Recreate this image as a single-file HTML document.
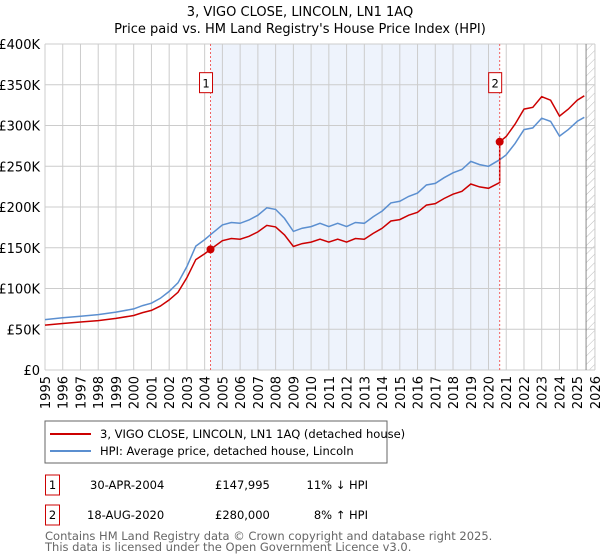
<!DOCTYPE html>
<html><head><meta charset="utf-8"><style>
body{margin:0;background:#fff;font-family:"Liberation Sans","DejaVu Sans",sans-serif;}
svg{display:block}
</style></head><body>
<svg id="c" width="600" height="560" xmlns="http://www.w3.org/2000/svg">
<text x="300" y="16" text-anchor="middle" font-size="13" fill="#000" font-family="DejaVu Sans, sans-serif">3, VIGO CLOSE, LINCOLN, LN1 1AQ</text>
<text x="300" y="33" text-anchor="middle" font-size="13" fill="#000" font-family="DejaVu Sans, sans-serif">Price paid vs. HM Land Registry's House Price Index (HPI)</text>
<defs><pattern id="hatch" width="6" height="6" patternUnits="userSpaceOnUse" patternTransform="rotate(45)"><line x1="0" y1="0" x2="0" y2="6" stroke="#bbb" stroke-width="1"/></pattern></defs>
<g id="plot"></g>
<rect x="45" y="421" width="342" height="42" fill="#fff" stroke="#666"/>
<line x1="50" y1="434" x2="91" y2="434" stroke="#cc0000" stroke-width="2"/>
<text x="100" y="438" font-size="11.5" font-family="DejaVu Sans, sans-serif">3, VIGO CLOSE, LINCOLN, LN1 1AQ (detached house)</text>
<line x1="50" y1="451" x2="91" y2="451" stroke="#5b8fd0" stroke-width="2"/>
<text x="100" y="455" font-size="11.5" font-family="DejaVu Sans, sans-serif">HPI: Average price, detached house, Lincoln</text>
<g font-size="11.5" font-family="DejaVu Sans, sans-serif">
<rect x="45.5" y="475" width="14" height="20" fill="#fff" stroke="#cc0000"/>
<text x="52.5" y="489" text-anchor="middle">1</text>
<text x="90" y="489">30-APR-2004</text>
<text x="215" y="489">£147,995</text>
<text x="368" y="489" text-anchor="end">11% ↓ HPI</text>
<rect x="45.5" y="505" width="14" height="20" fill="#fff" stroke="#cc0000"/>
<text x="52.5" y="519" text-anchor="middle">2</text>
<text x="87" y="519">18-AUG-2020</text>
<text x="215" y="519">£280,000</text>
<text x="368" y="519" text-anchor="end">8% ↑ HPI</text>
</g>
<text x="45" y="540" font-size="11.5" fill="#666" font-family="DejaVu Sans, sans-serif">Contains HM Land Registry data © Crown copyright and database right 2025.</text>
<text x="45" y="551" font-size="11.5" fill="#666" font-family="DejaVu Sans, sans-serif">This data is licensed under the Open Government Licence v3.0.</text>
</svg>
<script>
var hpiYears=[1995,1996,1997,1998,1999,2000,2000.5,2001,2001.5,2002,2002.5,2003,2003.5,2004,2004.33,2005,2005.5,2006,2006.5,2007,2007.5,2008,2008.5,2009,2009.5,2010,2010.5,2011,2011.5,2012,2012.5,2013,2013.5,2014,2014.5,2015,2015.5,2016,2016.5,2017,2017.5,2018,2018.5,2019,2019.5,2020,2020.63,2021,2021.5,2022,2022.5,2023,2023.5,2024,2024.5,2025,2025.4];
var hpiValues=[61.8,64,66,68,71,75,79,82,88,96.5,107,127,152,160,166,178,181,180,184,190,199,197,186,170,174,176,180,176,180,176,181,180,188,195,205,207,213,217,227,229,236,242,246,256,252,250,258,264,278,295,297,309,305,287,295,305,310];
var saleYears=[2004.33,2020.63];
var salePrices=[147.995,280];
var yTicks=[0,50,100,150,200,250,300,350,400];
var yTickLabels=["£0","£50K","£100K","£150K","£200K","£250K","£300K","£350K","£400K"];
var xTickYears=[1995,1996,1997,1998,1999,2000,2001,2002,2003,2004,2005,2006,2007,2008,2009,2010,2011,2012,2013,2014,2015,2016,2017,2018,2019,2020,2021,2022,2023,2024,2025,2026];

var NS="http://www.w3.org/2000/svg";
var g=document.getElementById('plot');
function X(y){return 45+(y-1995)*17.74;}
function Y(v){return 370-v*326/400;}
function el(t,a,p){var e=document.createElementNS(NS,t);for(var k in a)e.setAttribute(k,a[k]);(p||g).appendChild(e);return e;}

var sh=el('rect',{x:X(saleYears[0]),y:Y(400),width:X(saleYears[1])-X(saleYears[0]),height:Y(0)-Y(400),fill:'#eef3fc'});


var ht=el('rect',{x:X(2025.5),y:Y(400),width:X(2026)-X(2025.5),height:Y(0)-Y(400),fill:'url(#hatch)'});


yTicks.forEach(function(v,i){
  var l=el('line',{x1:45,x2:595,y1:Y(v),y2:Y(v),stroke:'#cccccc'});
  
  
  var t=el('text',{x:40,y:Y(v)+5,'text-anchor':'end','font-size':13,'font-family':'DejaVu Sans, sans-serif'});
  
  
  t.textContent=yTickLabels[i];
});
xTickYears.forEach(function(yr){
  var l=el('line',{x1:X(yr),x2:X(yr),y1:Y(400),y2:Y(0),stroke:'#cccccc'});
  
  
  var t=el('text',{x:0,y:0,'text-anchor':'end','font-size':13,'font-family':'DejaVu Sans, sans-serif',transform:'translate('+(X(yr)+5)+','+(Y(0)+6)+') rotate(-90)'});
  
  
  t.textContent=yr;
});
var dl=el('line',{x1:X(2025.5),x2:X(2025.5),y1:Y(400),y2:Y(0),stroke:'#888'});


function hpiAt(y){for(var i=1;i<hpiYears.length;i++){if(y<=hpiYears[i]){var t=(y-hpiYears[i-1])/(hpiYears[i]-hpiYears[i-1]);return hpiValues[i-1]+t*(hpiValues[i]-hpiValues[i-1]);}}return hpiValues[hpiValues.length-1];}
// blue
var d='';hpiYears.forEach(function(y,i){d+=(i?'L':'M')+X(y).toFixed(1)+','+Y(hpiValues[i]).toFixed(1);});
var hp=el('path',{d:d,fill:'none',stroke:'#5b8fd0','stroke-width':1.5});


// red: indexed to HPI from sales
var r1=salePrices[0]/hpiAt(saleYears[0]), r2=salePrices[1]/hpiAt(saleYears[1]);
var pts=[];
hpiYears.forEach(function(y,i){if(y<saleYears[1])pts.push([y,hpiValues[i]*r1]);});
pts.push([saleYears[1],hpiAt(saleYears[1])*r1]);
pts.push([saleYears[1],salePrices[1]]);
hpiYears.forEach(function(y,i){if(y>saleYears[1])pts.push([y,hpiValues[i]*r2]);});
d='';pts.forEach(function(p,i){d+=(i?'L':'M')+X(p[0]).toFixed(1)+','+Y(p[1]).toFixed(1);});
var pp=el('path',{d:d,fill:'none',stroke:'#cc0000','stroke-width':1.5});


saleYears.forEach(function(y,i){
  var v=el('line',{x1:X(y),x2:X(y),y1:Y(400),y2:Y(0),stroke:'#f06060','stroke-dasharray':'2,2'});
  
  
  var c=el('circle',{cx:X(y),cy:Y(salePrices[i]),r:4,fill:'#cc0000'});
  
  
  var b=el('rect',{x:X(y)-11,y:Y(355)-8,width:13,height:20,fill:'#fff',stroke:'#cc0000'});
  
  
  var t=el('text',{x:X(y)-4.5,y:Y(355)+7,'text-anchor':'middle','font-size':11.5,'font-family':'DejaVu Sans, sans-serif'});
  
  
  t.textContent=String(i+1);
});
</script>
</body></html>
